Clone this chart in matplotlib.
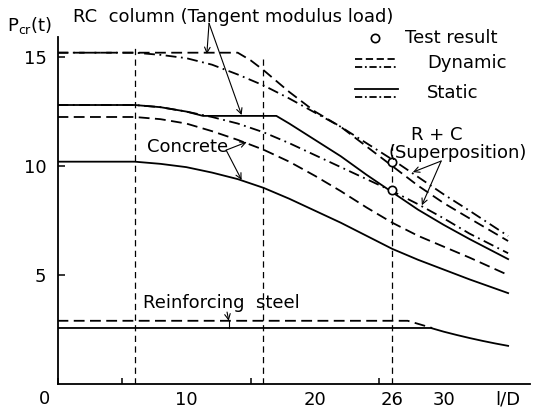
import matplotlib
matplotlib.use("Agg")
import matplotlib.pyplot as plt
from matplotlib.lines import Line2D

# l/D positions and P_cr(t) values
x_full = [0, 6, 8, 10, 12, 14, 16, 18, 20, 22, 24, 26, 28, 30, 32, 35]
concrete_dyn = [12.25, 12.25, 12.15, 11.95, 11.6, 11.2, 10.75, 10.2, 9.55, 8.85, 8.1, 7.4, 6.8, 6.3, 5.8, 5.0]
concrete_sta = [10.2, 10.2, 10.1, 9.95, 9.7, 9.4, 9.0, 8.5, 7.95, 7.4, 6.8, 6.2, 5.7, 5.25, 4.8, 4.17]
super_dyn = [15.2, 15.2, 15.1, 14.95, 14.65, 14.2, 13.7, 13.1, 12.45, 11.8, 11.05, 10.3, 9.5, 8.7, 7.95, 6.79]
super_sta = [12.8, 12.8, 12.7, 12.5, 12.25, 11.95, 11.55, 11.05, 10.5, 9.95, 9.4, 8.85, 8.25, 7.6, 6.9, 6.0]

rc_dyn_x = [0, 14, 15, 16, 18, 20, 22, 24, 26, 28, 30, 32, 35]
rc_dyn = [15.2, 15.2, 14.85, 14.4, 13.4, 12.5, 11.8, 10.9, 10.0, 9.1, 8.3, 7.6, 6.56]
rc_sta_x = [0, 6, 8, 10, 11.3, 17, 18, 20, 22, 24, 26, 28, 30, 32, 35]
rc_sta = [12.8, 12.8, 12.7, 12.5, 12.3, 12.3, 11.95, 11.2, 10.45, 9.6, 8.8, 8.0, 7.3, 6.65, 5.73]

steel_dyn_x = [0, 27.2, 29.1]
steel_dyn = [2.9, 2.9, 2.57]
steel_sta_x = [0, 29, 30, 31, 32, 33, 34, 35]
steel_sta = [2.57, 2.57, 2.4, 2.25, 2.11, 1.98, 1.86, 1.75]

test_x = [26, 26]
test_y = [10.2, 8.9]

vline_x = [6, 16, 26]
vline_top = [15.4, 14.95, 11.2]

xtick_pos = [10, 20, 26, 30, 35]
xtick_lab = ['10', '20', '26', '30', 'l/D']
ytick_pos = [5, 10, 15]

W, H = 533, 412
fig = plt.figure(figsize=(W / 100, H / 100), dpi=100)
ax = fig.add_axes([57.5 / W, 1 - 384 / H, 472.5 / W, 347 / H])
ax.set_xlim(0, 36.7)
ax.set_ylim(0, 15.92)

lw = 1.3
dash = (0, (6, 3))
dashdot = (0, (6, 2.5, 1, 2.5))

ax.plot(x_full, concrete_dyn, color='black', lw=lw, ls=dash)
ax.plot(x_full, concrete_sta, color='black', lw=lw)
ax.plot(x_full, super_dyn, color='black', lw=lw, ls=dashdot)
ax.plot(x_full, super_sta, color='black', lw=lw, ls=dashdot)
ax.plot(rc_dyn_x, rc_dyn, color='black', lw=lw, ls=dash)
ax.plot(rc_sta_x, rc_sta, color='black', lw=lw)
ax.plot(steel_dyn_x, steel_dyn, color='black', lw=lw, ls=dash)
ax.plot(steel_sta_x, steel_sta, color='black', lw=lw)
ax.vlines(vline_x, 0, vline_top, color='black', lw=0.9, linestyles=[(0, (5, 3.5))])
ax.plot(test_x, test_y, 'o', mfc='white', mec='black', ms=6, mew=1.2, zorder=5)

for s in ['top', 'right']:
    ax.spines[s].set_visible(False)
for s in ['left', 'bottom']:
    ax.spines[s].set_linewidth(1.3)

fs = 13

ax.set_xticks(xtick_pos, xtick_lab)
ax.set_xticks([0, 5, 10, 15, 20, 25, 30, 35], minor=True)
ax.tick_params(axis='x', which='major', length=0, pad=5, labelsize=fs)
ax.tick_params(axis='x', which='minor', direction='in', length=4, width=1.1)
ax.set_yticks(ytick_pos)
ax.tick_params(axis='y', direction='in', length=5, width=1.1, pad=8, labelsize=fs)


def px(x, y):
    return x / W, 1 - y / H


fig.text(*px(45, 399), '0', fontsize=fs, ha='center', va='center')
fig.text(*px(30, 26), 'P$_{\\rm cr}$(t)', fontsize=fs, ha='center', va='center')
fig.text(*px(73, 17), 'RC  column (Tangent modulus load)', fontsize=fs, ha='left', va='center')
fig.text(*px(405, 38), 'Test result', fontsize=fs, ha='left', va='center')
fig.text(*px(427, 63), 'Dynamic', fontsize=fs, ha='left', va='center')
fig.text(*px(427, 93), 'Static', fontsize=fs, ha='left', va='center')
fig.text(*px(437, 135), 'R + C', fontsize=fs, ha='center', va='center')
fig.text(*px(388, 153), '(Superposition)', fontsize=fs, ha='left', va='center')
fig.text(*px(147, 147), 'Concrete', fontsize=fs, ha='left', va='center')
fig.text(*px(143, 303), 'Reinforcing  steel', fontsize=fs, ha='left', va='center')

# legend samples
fig.add_artist(Line2D([375 / W], [1 - 38 / H], marker='o', mfc='white', mec='black', ms=6, mew=1.2))
fig.add_artist(Line2D([355 / W, 398 / W], [1 - 59 / H] * 2, color='black', lw=lw, ls=(0, (4, 2))))
fig.add_artist(Line2D([355 / W, 398 / W], [1 - 67 / H] * 2, color='black', lw=lw, ls=(0, (4, 1.5, 1, 1.5))))
fig.add_artist(Line2D([355 / W, 398 / W], [1 - 89 / H] * 2, color='black', lw=lw))
fig.add_artist(Line2D([355 / W, 398 / W], [1 - 97 / H] * 2, color='black', lw=lw, ls=(0, (4, 1.5, 1, 1.5))))

arrow = dict(arrowstyle='->', lw=0.8, color='black', shrinkA=0, shrinkB=0)
ax.annotate('', xy=(11.6, 15.14), xytext=(11.77, 16.55), arrowprops=arrow, annotation_clip=False)
ax.annotate('', xy=(14.3, 12.34), xytext=(11.77, 16.55), arrowprops=arrow, annotation_clip=False)
ax.annotate('', xy=(14.7, 11.1), xytext=(13.1, 10.73), arrowprops=arrow)
ax.annotate('', xy=(14.3, 9.36), xytext=(13.1, 10.73), arrowprops=arrow)
ax.annotate('', xy=(13.3, 2.9), xytext=(13.17, 3.3), arrowprops=arrow)
ax.plot([13.3, 13.3], [2.9, 2.57], color='black', lw=0.8)
ax.annotate('', xy=(27.6, 9.72), xytext=(29.8, 10.23), arrowprops=arrow)
ax.annotate('', xy=(28.3, 8.2), xytext=(29.8, 10.23), arrowprops=arrow)

fig.savefig('out.png', dpi=100)
